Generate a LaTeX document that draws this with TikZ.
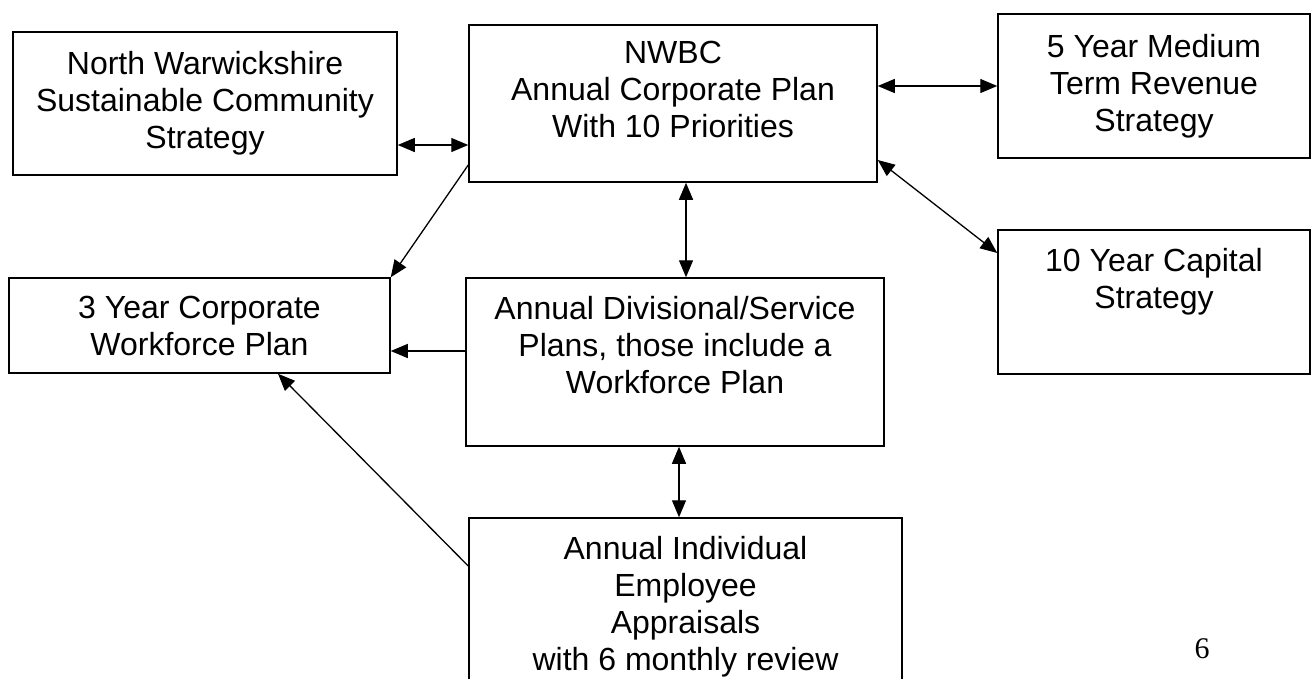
\documentclass[tikz,border=0pt]{standalone}
\usepackage{fontspec}
\setmainfont{Liberation Sans}
\newfontfamily\pagefont{Liberation Serif}
\usepackage{tikz}
\usetikzlibrary{arrows.meta,positioning}

\begin{document}
\begin{tikzpicture}[x=1pt,y=-1pt,
    box/.style={draw, line width=1.5pt, align=center, inner sep=0pt,
        font=\fontsize{32}{37}\selectfont},
    txt/.style={align=center, inner sep=0pt, font=\fontsize{32}{37}\selectfont},
    link/.style={line width=1.3pt, -{Triangle[length=17pt,width=14pt]}},
    both/.style={line width=1.3pt, {Triangle[length=17pt,width=14pt]}-{Triangle[length=17pt,width=14pt]}}]
                % Page frame
                \clip (0,0) rectangle (1316,678);
                \fill[white] (0,0) rectangle (1316,678);

                % Boxes
                \node[box, minimum width=384pt, minimum height=143pt] (nwscs) at (205,103.5)
                    {North Warwickshire\\Sustainable Community\\Strategy};
                \node[box, minimum width=408pt, minimum height=157pt] (plan) at (673,103.5) {};
                \node[txt, below=16.5pt of plan.north] (plantxt)
                    {NWBC\\Annual Corporate Plan\\With 10 Priorities};
                \node[box, minimum width=312pt, minimum height=144pt] (mtrs) at (1154,86)
                    {5 Year Medium\\Term Revenue\\Strategy};
                \node[box, minimum width=312pt, minimum height=144pt] (capital) at (1154,302) {};
                \node[txt, below=18.5pt of capital.north] (capitaltxt)
                    {10 Year Capital\\Strategy};
                \node[box, minimum width=381pt, minimum height=95pt] (workforce) at (199.5,325.5)
                    {3 Year Corporate\\Workforce Plan};
                \node[box, minimum width=418pt, minimum height=168pt] (service) at (675,362) {};
                \node[txt, below=18.5pt of service.north] (servicetxt)
                    {Annual Divisional/Service\\Plans, those include a\\Workforce Plan};
                \node[box, minimum width=433pt, minimum height=202pt] (appraisal) at (685.5,619) {};
                \node[txt, below=18.5pt of appraisal.north] (appraisaltxt)
                    {Annual Individual\\Employee\\Appraisals\\with 6 monthly review};

                % Page number
                \node[font=\pagefont\fontsize{30}{34}\selectfont, inner sep=0pt] (pagenum) at (1202,649) {6};

                % Connectors
                \draw[both] ([yshift=-41.5pt]nwscs.east) -- ([yshift=-41.5pt]plan.west);
                \draw[both] ([yshift=17.5pt]plan.east) -- (mtrs.west);
                \draw[link] ([yshift=-61.5pt]plan.west) -- (workforce.north east);
                \draw[both] ([yshift=-56.5pt]plan.east) -- ([yshift=49pt]capital.west);
                \draw[both] ([xshift=13pt]plan.south) -- ([xshift=13pt]plan.south |- service.north);
                \draw[link] ([yshift=11pt]service.west) -- ([yshift=11pt]service.west -| workforce.east);
                \draw[both] ([xshift=4pt]service.south) -- ([xshift=4pt]service.south |- appraisal.north);
                \draw[link] ([yshift=53pt]appraisal.west) -- ([xshift=78.5pt]workforce.south);
\end{tikzpicture}
\end{document}
